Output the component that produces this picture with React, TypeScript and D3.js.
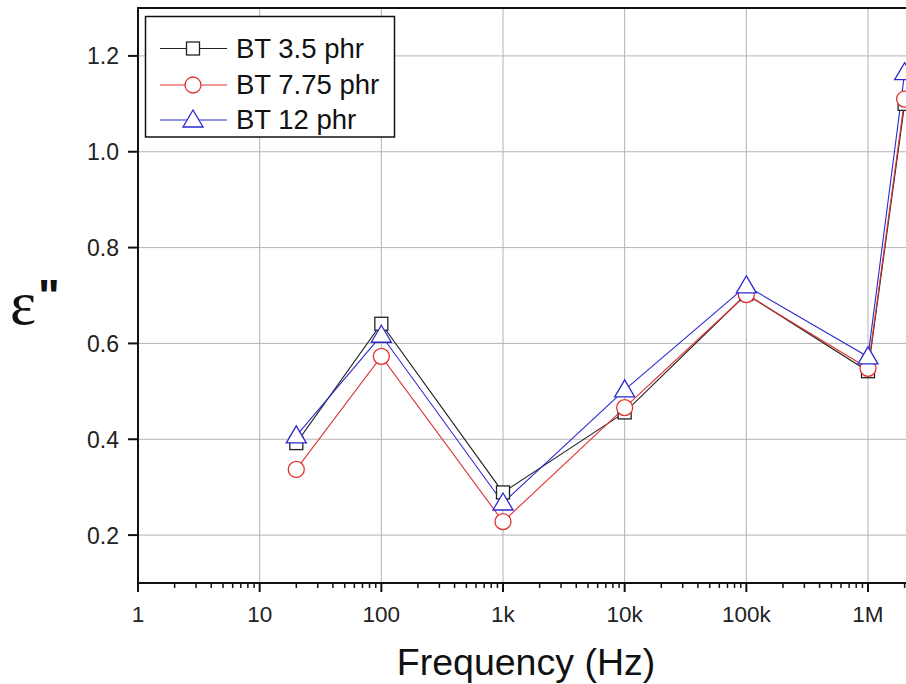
import React from "react";
import * as d3 from "d3";

const freqs = [20, 100, 1e3, 1e4, 1e5, 1e6, 2e6];
const bt35 = [0.392, 0.641, 0.289, 0.456, 0.703, 0.542, 1.1];
const bt775 = [0.337, 0.573, 0.228, 0.466, 0.702, 0.548, 1.11];
const bt12 = [0.407, 0.617, 0.267, 0.503, 0.72, 0.572, 1.165];
const seriesNames = ["BT 3.5 phr", "BT 7.75 phr", "BT 12 phr"];
const xTickVals = [1, 10, 100, 1e3, 1e4, 1e5, 1e6];
const xTickLabels = ["1", "10", "100", "1k", "10k", "100k", "1M"];
const yTickVals = [0.2, 0.4, 0.6, 0.8, 1.0, 1.2];

const W = 906, H = 684;
const font = "'Liberation Sans', Arial, sans-serif";

const drawMarker = (g, kind, color, x, y) => {
  if (kind === "square") {
    g.append("rect").attr("x", x - 6.5).attr("y", y - 6.5).attr("width", 13).attr("height", 13)
      .attr("fill", "white").attr("stroke", color).attr("stroke-width", 1.3);
  } else if (kind === "circle") {
    g.append("circle").attr("cx", x).attr("cy", y).attr("r", 8)
      .attr("fill", "white").attr("stroke", color).attr("stroke-width", 1.3);
  } else {
    g.append("path").attr("d", `M${x},${y - 10}L${x + 10},${y + 7}L${x - 10},${y + 7}Z`)
      .attr("fill", "white").attr("stroke", color).attr("stroke-width", 1.3);
  }
};

const App = () => {
  const ref = React.useRef(null);

  React.useEffect(() => {
    const svg = d3.select(ref.current);
    svg.selectAll("*").remove();
    const x = d3.scaleLog().domain([1, 1e6]).range([138, 868]);
    const y = d3.scaleLinear().domain([0.1, 1.3]).range([583, 8]);
    const left = 138, bottom = 583, top = 8, right = 940;

    // grid
    svg.append("g").selectAll("line").data(xTickVals.slice(1)).join("line")
      .attr("x1", d => x(d)).attr("x2", d => x(d)).attr("y1", top).attr("y2", bottom)
      .attr("stroke", "#b4b4b4").attr("stroke-width", 1);
    svg.append("g").selectAll("line").data(yTickVals).join("line")
      .attr("x1", left).attr("x2", right).attr("y1", d => y(d)).attr("y2", d => y(d))
      .attr("stroke", "#b4b4b4").attr("stroke-width", 1);

    // series
    const series = [
      { vals: bt35, color: "#222222", kind: "square" },
      { vals: bt775, color: "#e03030", kind: "circle" },
      { vals: bt12, color: "#2a2ad0", kind: "triangle" },
    ];
    const line = d3.line().x(d => x(d[0])).y(d => y(d[1]));
    series.forEach(s => {
      const pts = freqs.map((f, i) => [f, s.vals[i]]);
      svg.append("path").attr("d", line(pts)).attr("fill", "none")
        .attr("stroke", s.color).attr("stroke-width", 1.1);
    });
    series.forEach(s => {
      const g = svg.append("g");
      freqs.forEach((f, i) => drawMarker(g, s.kind, s.color, x(f), y(s.vals[i])));
    });

    // axes frame
    svg.append("line").attr("x1", left).attr("x2", right).attr("y1", top).attr("y2", top)
      .attr("stroke", "#111").attr("stroke-width", 2);
    svg.append("line").attr("x1", left).attr("x2", left).attr("y1", top - 1).attr("y2", bottom + 1)
      .attr("stroke", "#111").attr("stroke-width", 2);
    svg.append("line").attr("x1", left - 1).attr("x2", right).attr("y1", bottom).attr("y2", bottom)
      .attr("stroke", "#111").attr("stroke-width", 2);

    // x ticks
    const minors = [];
    for (let e = 0; e < 7; e++) for (let m = 2; m <= 9; m++) minors.push(m * Math.pow(10, e));
    svg.append("g").selectAll("line").data(minors.filter(v => x(v) < W)).join("line")
      .attr("x1", d => x(d)).attr("x2", d => x(d)).attr("y1", bottom).attr("y2", bottom + 5)
      .attr("stroke", "#111").attr("stroke-width", 1.5);
    svg.append("g").selectAll("line").data(xTickVals).join("line")
      .attr("x1", d => x(d)).attr("x2", d => x(d)).attr("y1", bottom).attr("y2", bottom + 9)
      .attr("stroke", "#111").attr("stroke-width", 2);
    svg.append("g").selectAll("text").data(xTickVals).join("text")
      .attr("x", d => x(d)).attr("y", 622).attr("text-anchor", "middle")
      .attr("font-family", font).attr("font-size", 22.5).attr("fill", "#222")
      .text((d, i) => xTickLabels[i]);

    // y ticks
    svg.append("g").selectAll("line").data(yTickVals).join("line")
      .attr("x1", left - 10).attr("x2", left).attr("y1", d => y(d)).attr("y2", d => y(d))
      .attr("stroke", "#111").attr("stroke-width", 2);
    svg.append("g").selectAll("text").data(yTickVals).join("text")
      .attr("x", left - 19).attr("y", d => y(d) + 8.5).attr("text-anchor", "end")
      .attr("font-family", font).attr("font-size", 23).attr("fill", "#222")
      .text(d => d.toFixed(1));

    // titles
    svg.append("text").attr("x", 526).attr("y", 675).attr("text-anchor", "middle")
      .attr("font-family", font).attr("font-size", 37.5).attr("fill", "#111")
      .text("Frequency (Hz)");
    const yt = svg.append("text").attr("x", 10).attr("y", 324)
      .attr("font-family", "'Liberation Serif', 'Times New Roman', serif")
      .attr("font-size", 62).attr("fill", "#111");
    yt.append("tspan").text("ε");
    yt.append("tspan").attr("dx", 2).attr("font-family", font).attr("font-weight", "bold")
      .attr("font-size", 46).attr("dy", -12).text("\"");

    // legend
    const lg = svg.append("g");
    lg.append("rect").attr("x", 145.5).attr("y", 16.5).attr("width", 249).attr("height", 120.5)
      .attr("fill", "white").attr("stroke", "#111").attr("stroke-width", 1.5);
    const ly = [48.5, 85, 120];
    series.forEach((s, i) => {
      lg.append("line").attr("x1", 160).attr("x2", 227).attr("y1", ly[i]).attr("y2", ly[i])
        .attr("stroke", s.color).attr("stroke-width", 1.1);
      drawMarker(lg, s.kind, s.color, 193, ly[i]);
      lg.append("text").attr("x", 236).attr("y", ly[i] + 9)
        .attr("font-family", font).attr("font-size", 27.5).attr("fill", "#111")
        .text(seriesNames[i]);
    });
  }, []);

  return (
    <svg ref={ref} width={W} height={H}
      style={{ position: "absolute", left: 0, top: 0, background: "white" }} />
  );
};

export default App;
